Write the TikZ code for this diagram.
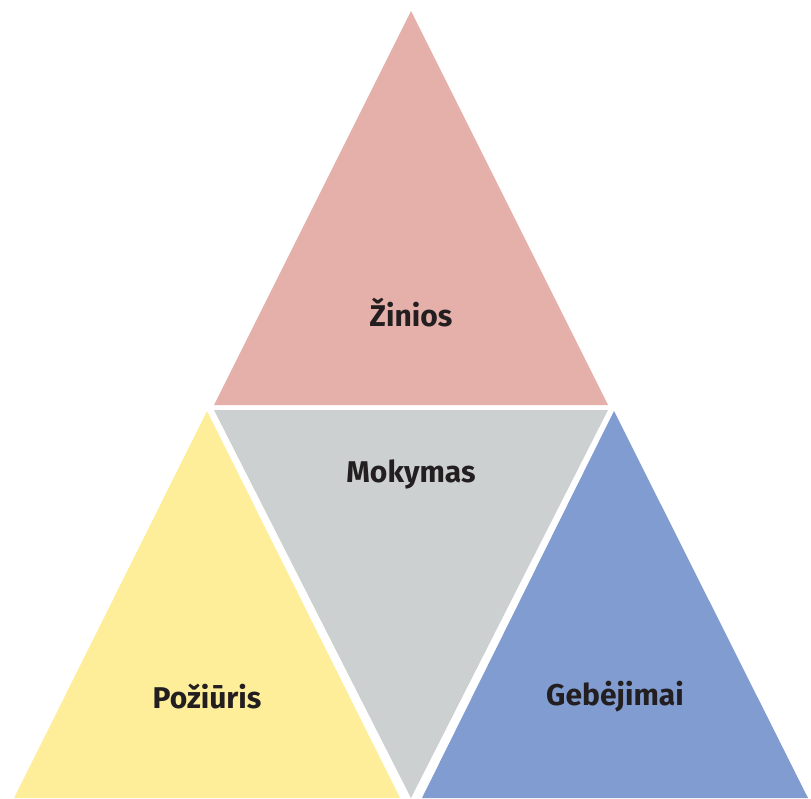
\documentclass[tikz,border=0pt]{standalone}
\usepackage{fontspec}
\setmainfont{Fira Sans}
\definecolor{knowfill}{HTML}{E5B0AA}
\definecolor{teachfill}{HTML}{CCD0D1}
\definecolor{viewfill}{HTML}{FEEE9A}
\definecolor{skillfill}{HTML}{819CD1}
\definecolor{labeltext}{HTML}{231F20}
\begin{document}
\begin{tikzpicture}[x=1pt, y=-1pt,
    part/.style={font=\bfseries\fontsize{30}{33}\selectfont, text=labeltext}]
    \pgfmathsetmacro\midrow{405};
    \pgfmathsetmacro\baserow{798};
    \useasboundingbox (0, 0) rectangle (811, 798);

    \fill[knowfill] (411, 11) -- (608, \midrow) -- (214, \midrow) -- cycle;
    \fill[teachfill] (214, \midrow + 5) -- (608, \midrow + 5) -- (411, \baserow) -- cycle;
    \fill[viewfill] (207, \midrow + 6) -- (400, \baserow) -- (14, \baserow) -- cycle;
    \fill[skillfill] (614, \midrow + 6) -- (808, \baserow) -- (422, \baserow) -- cycle;

    \node[part] (zinios) at (411, 313) {Žinios};
    \node[part] (mokymas) at (411, 474) {Mokymas};
    \node[part] (poziuris) at (207, 697) {Požiūris};
    \node[part] (gebejimai) at (615, 697) {Gebėjimai};
\end{tikzpicture}
\end{document}
